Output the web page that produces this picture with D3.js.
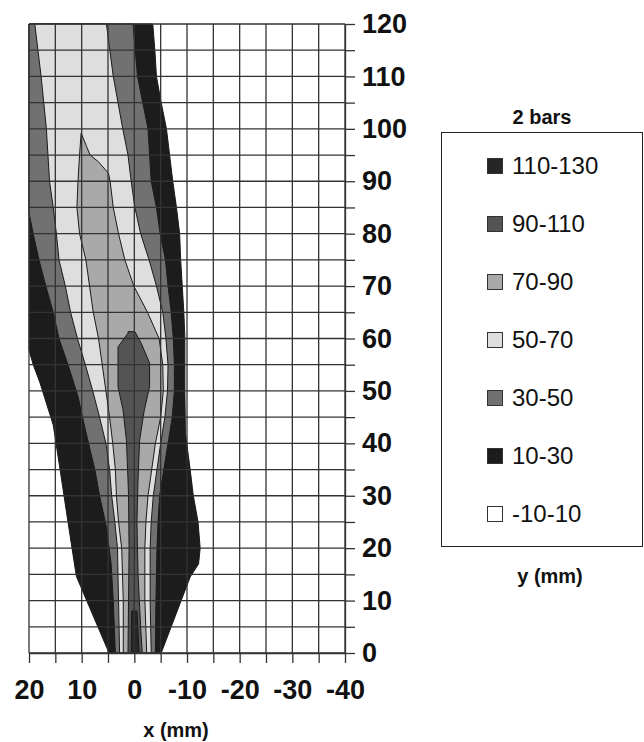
<!DOCTYPE html>
<html>
<head>
<meta charset="utf-8">
<script src="https://cdn.jsdelivr.net/npm/d3@7"></script>
<style>
  body { margin: 0; background: #fff; }
  svg { font-family: "Liberation Sans", Arial, sans-serif; }
</style>
</head>
<body>
<script>
// legend bands, top to bottom
var levelLabels = ['110-130', '90-110', '70-90', '50-70', '30-50', '10-30', '-10-10'];
var levelColors = ['#262626', '#545454', '#a9a9a9', '#dedede', '#717171', '#1c1c1c', '#ffffff'];

var xGridValues = [20, 15, 10, 5, 0, -5, -10, -15, -20, -25, -30, -35, -40];
var xLabelValues = [20, 10, 0, -10, -20, -30, -40];
var yGridValues = [0, 5, 10, 15, 20, 25, 30, 35, 40, 45, 50, 55, 60, 65, 70, 75, 80, 85, 90, 95, 100, 105, 110, 115, 120];
var yLabelValues = [0, 10, 20, 30, 40, 50, 60, 70, 80, 90, 100, 110, 120];

// contour outlines, [x mm, y mm]
// each one encloses everything at or above its lower bound
var contour10 = [
  [20, 120], [-3.5, 120], [-3.9, 115], [-4.2, 110], [-5.1, 105], [-6.1, 100], [-6.7, 95],
  [-7.3, 90], [-8.0, 85], [-8.6, 80], [-8.8, 75], [-9.1, 70], [-9.4, 65], [-9.6, 60],
  [-9.6, 50], [-9.7, 42], [-10.6, 35], [-11.2, 30], [-12.1, 25], [-12.5, 20], [-12.2, 17],
  [-10.6, 14.5], [-5.1, 0], [4.8, 0], [11.0, 14.6], [12.6, 25], [14.1, 35], [15.4, 43.5],
  [17.9, 51.5], [19.2, 55], [20, 57.8]
];
var contour30 = [
  [20, 120], [0.25, 120], [-0.6, 110], [-1.6, 105], [-2.6, 100], [-2.9, 95], [-3.2, 90],
  [-4.2, 85], [-4.9, 80], [-5.9, 75], [-6.4, 70], [-7.0, 65], [-7.4, 60], [-7.6, 55],
  [-7.6, 50], [-7.2, 45], [-6.4, 40], [-5.6, 35], [-4.8, 30], [-4.5, 25], [-4.3, 20],
  [-4.1, 10], [-4.0, 0], [3.6, 0], [4.0, 10], [4.4, 17], [5.3, 24], [6.6, 30], [7.5, 35],
  [9.4, 43], [10.7, 49], [12.6, 55], [14.3, 60], [15.4, 65], [16.8, 70], [18.1, 75],
  [19.2, 80], [20, 84]
];
var contour50 = [
  [18.9, 120], [5.3, 120], [4.0, 110], [2.2, 100], [1.2, 95], [0.6, 90], [-0.1, 85],
  [-1.2, 80], [-2.8, 75], [-4.2, 70], [-5.4, 65], [-6.0, 60], [-6.4, 55], [-6.3, 50],
  [-5.8, 45], [-5.0, 40], [-4.3, 35], [-3.6, 30], [-3.2, 25], [-3.0, 20], [-3.0, 10],
  [-3.2, 0], [2.8, 0], [3.0, 10], [3.2, 20], [3.7, 25], [4.3, 30], [4.7, 35], [5.4, 40],
  [6.6, 45], [7.9, 50], [9.3, 55], [10.8, 60], [12.1, 65], [13.1, 70], [14.3, 75],
  [14.8, 80], [15.4, 85], [16.1, 90], [16.4, 95], [16.7, 100], [17.7, 110]
];
var contour70 = [
  [10.1, 99.2], [9.05, 96.6], [8.4, 95], [6.8, 93.7], [4.9, 91.5], [4.6, 90], [4.0, 85],
  [3.0, 80], [1.8, 75], [0.1, 70], [-2.5, 65], [-4.7, 60], [-5.4, 55], [-5.5, 50],
  [-5.0, 45], [-4.0, 40], [-3.3, 35], [-2.6, 30], [-2.2, 25], [-2.0, 20], [-2.0, 10],
  [-2.35, 0], [2.1, 0], [2.1, 10], [2.4, 20], [3.0, 25], [3.4, 30], [3.6, 35], [4.1, 40],
  [4.7, 45], [5.4, 50], [6.1, 55], [6.8, 60], [7.8, 65], [8.5, 70], [9.2, 75], [10.4, 80],
  [10.9, 85], [10.7, 90], [10.4, 95]
];
var contour90 = [
  [1.2, 61.3], [-0.1, 61.3], [-1.3, 59.1], [-2.9, 55.3], [-2.9, 50.8], [-1.9, 46.4],
  [-1.0, 40.6], [-0.7, 33], [-0.5, 25], [-0.7, 15], [-1.2, 5], [-1.5, 0], [1.2, 0],
  [1.1, 10], [1.0, 20], [1.1, 30], [1.2, 33], [1.5, 40.6], [2.15, 46.4], [3.1, 50.8],
  [3.1, 58.4], [1.2, 61.0]
];
var contour110 = [[0.5, 8], [-0.5, 8], [-0.9, 0], [0.6, 0]];

(function() {
  var width = 644;
  var height = 742;
  var xScale, yScale;

  function computeScale() {
    xScale = d3.scaleLinear().domain([20, -40]).range([29, 345]);
    yScale = d3.scaleLinear().domain([0, 120]).range([653, 24]);
  }

  function drawContours(svg) {
    var line = d3
      .line()
      .x(d => xScale(d[0]))
      .y(d => yScale(d[1]))
      .curve(d3.curveLinearClosed);

    // painted from the outer band inwards
    var bands = [
      { points: contour10, color: levelColors[5] },
      { points: contour30, color: levelColors[4] },
      { points: contour50, color: levelColors[3] },
      { points: contour70, color: levelColors[2] },
      { points: contour90, color: levelColors[1] },
      { points: contour110, color: levelColors[0] }
    ];

    svg
      .append('g')
      .selectAll('path')
      .data(bands)
      .join('path')
      .attr('d', d => line(d.points))
      .attr('fill', d => d.color)
      .attr('stroke', '#1a1a1a')
      .attr('stroke-width', 1)
      .attr('stroke-linejoin', 'round');
  }

  function drawGrid(svg) {
    var grid = svg.append('g').attr('stroke', '#333').attr('stroke-width', 1.3);
    grid
      .selectAll('line.v')
      .data(xGridValues)
      .join('line')
      .attr('class', 'v')
      .attr('x1', d => xScale(d))
      .attr('x2', d => xScale(d))
      .attr('y1', yScale(0))
      .attr('y2', yScale(120));
    grid
      .selectAll('line.h')
      .data(yGridValues)
      .join('line')
      .attr('class', 'h')
      .attr('x1', xScale(20))
      .attr('x2', xScale(-40))
      .attr('y1', d => yScale(d))
      .attr('y2', d => yScale(d));
  }

  function drawAxis(svg) {
    var yAxis = d3
      .axisRight(yScale)
      .tickValues(yGridValues)
      .tickSize(10)
      .tickSizeOuter(0)
      .tickPadding(7)
      .tickFormat(d => (yLabelValues.indexOf(d) >= 0 ? String(d) : ''));
    var gy = svg
      .append('g')
      .attr('class', 'y axis')
      .attr('transform', `translate(${xScale(-40)}, 0)`)
      .call(yAxis);

    var xAxis = d3
      .axisBottom(xScale)
      .tickValues(xGridValues)
      .tickSize(10)
      .tickSizeOuter(0)
      .tickPadding(17)
      .tickFormat(d => (xLabelValues.indexOf(d) >= 0 ? String(d) : ''));
    var gx = svg
      .append('g')
      .attr('class', 'x axis')
      .attr('transform', `translate(0, ${yScale(0)})`)
      .call(xAxis);

    [gx, gy].forEach(function(g) {
      g.select('.domain').attr('stroke', '#333').attr('stroke-width', 1.3);
      g.selectAll('.tick line').attr('stroke', '#333').attr('stroke-width', 1.3);
      g.selectAll('.tick text')
        .attr('fill', '#111')
        .style('font-size', '27px')
        .style('font-weight', 'bold')
        .style('font-family', '"Liberation Sans", Arial, sans-serif');
    });

    svg
      .append('text')
      .attr('x', 176)
      .attr('y', 737)
      .attr('text-anchor', 'middle')
      .style('font-size', '20px')
      .style('font-weight', 'bold')
      .attr('fill', '#111')
      .text('x (mm)');
  }

  function drawLegend(svg) {
    var legend = svg.append('g').attr('class', 'legend');

    legend
      .append('text')
      .attr('x', 542)
      .attr('y', 124)
      .attr('text-anchor', 'middle')
      .style('font-size', '20px')
      .style('font-weight', 'bold')
      .attr('fill', '#111')
      .text('2 bars');

    legend
      .append('rect')
      .attr('x', 441.5)
      .attr('y', 132.5)
      .attr('width', 201)
      .attr('height', 414)
      .attr('fill', '#fff')
      .attr('stroke', '#222')
      .attr('stroke-width', 1);

    var items = legend
      .selectAll('g.item')
      .data(levelLabels)
      .join('g')
      .attr('class', 'item')
      .attr('transform', (d, i) => `translate(487, ${166 + i * 58})`);

    items
      .append('rect')
      .attr('x', 0.5)
      .attr('y', -7.5)
      .attr('width', 15)
      .attr('height', 15)
      .attr('fill', (d, i) => levelColors[i])
      .attr('stroke', '#333')
      .attr('stroke-width', 1);

    items
      .append('text')
      .attr('x', 25)
      .attr('y', 0)
      .attr('dy', '0.35em')
      .style('font-size', '24px')
      .attr('fill', '#111')
      .text(d => d);

    legend
      .append('text')
      .attr('x', 550)
      .attr('y', 583)
      .attr('text-anchor', 'middle')
      .style('font-size', '20px')
      .style('font-weight', 'bold')
      .attr('fill', '#111')
      .text('y (mm)');
  }

  var svg = d3
    .select('body')
    .append('svg')
    .attr('width', width)
    .attr('height', height);

  computeScale();
  drawContours(svg);
  drawGrid(svg);
  drawAxis(svg);
  drawLegend(svg);
})();
</script>
</body>
</html>
